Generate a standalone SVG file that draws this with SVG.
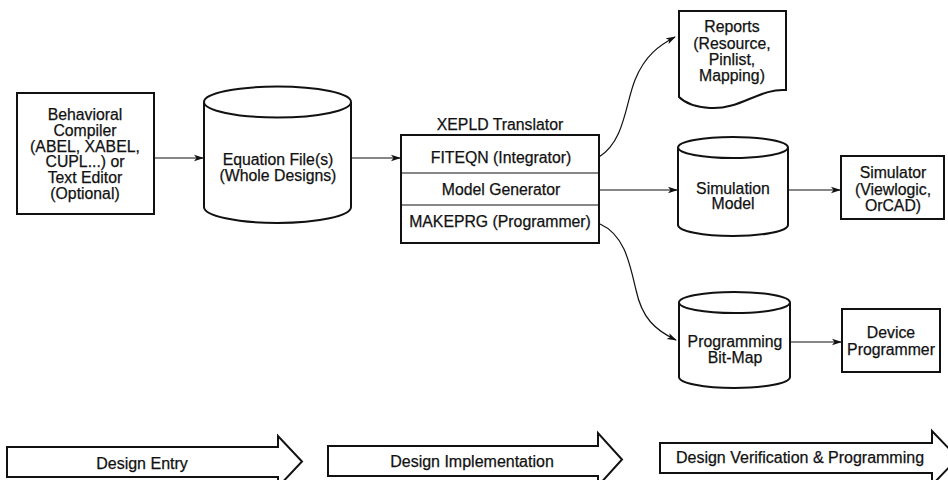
<svg xmlns="http://www.w3.org/2000/svg" width="948" height="480" viewBox="0 0 948 480">
<style>
.shape{fill:#fff;stroke:#111;stroke-width:2}
.line{fill:none;stroke:#111;stroke-width:1.2}
.t{font-family:"Liberation Sans",Arial,sans-serif;font-size:15.8px;fill:#111;stroke:#111;stroke-width:0.25;text-anchor:middle}
.b{font-family:"Liberation Sans",Arial,sans-serif;font-size:16px;fill:#111;stroke:#111;stroke-width:0.25;text-anchor:middle}
</style>
<defs>
<marker id="ah" markerWidth="10" markerHeight="8" refX="9" refY="4" orient="auto" markerUnits="userSpaceOnUse">
<path d="M0,0.8 L10,4 L0,7.2 L2.5,4 Z" fill="#111"/>
</marker>
</defs>
<rect width="948" height="480" fill="#fff"/>

<g id="behavioral">
<rect class="shape" x="17" y="93" width="137" height="121"/>
<text class="t" x="85" y="119.5">Behavioral</text>
<text class="t" x="85" y="135.5">Compiler</text>
<text class="t" x="85" y="151.5">(ABEL, XABEL,</text>
<text class="t" x="85" y="167">CUPL...) or</text>
<text class="t" x="85" y="183">Text Editor</text>
<text class="t" x="85" y="199">(Optional)</text>
</g>

<g id="equation">
<path class="shape" d="M204,102 V207 A73.5,16 0 0 0 351,207 V102"/>
<ellipse class="shape" cx="277.5" cy="102" rx="73.5" ry="15.5"/>
<text class="t" x="278" y="165">Equation File(s)</text>
<text class="t" x="278" y="180.5">(Whole Designs)</text>
</g>

<g id="xepld">
<text class="t" x="500" y="130">XEPLD Translator</text>
<rect class="shape" x="401" y="135" width="198" height="108"/>
<line class="line" x1="401" y1="173" x2="599" y2="173"/>
<line class="line" x1="401" y1="205" x2="599" y2="205"/>
<text class="t" x="501" y="162.5">FITEQN (Integrator)</text>
<text class="t" x="501" y="194.5">Model Generator</text>
<text class="t" x="500" y="226.5">MAKEPRG (Programmer)</text>
</g>

<g id="reports">
<path class="shape" d="M679,11 H786 V90 C760,88 740,110 710,108 C695,107 685,103 679,97 Z"/>
<text class="t" x="732" y="32">Reports</text>
<text class="t" x="732" y="48.5">(Resource,</text>
<text class="t" x="732" y="65">Pinlist,</text>
<text class="t" x="732" y="81">Mapping)</text>
</g>

<g id="simmodel">
<path class="shape" d="M678,148 V225 A55,11 0 0 0 788,225 V148"/>
<ellipse class="shape" cx="733" cy="147.5" rx="55" ry="10.5"/>
<text class="t" x="733" y="193.5">Simulation</text>
<text class="t" x="733" y="209">Model</text>
</g>

<g id="simulator">
<rect class="shape" x="841" y="156" width="103" height="63"/>
<text class="t" x="893" y="178">Simulator</text>
<text class="t" x="893" y="195">(Viewlogic,</text>
<text class="t" x="893" y="211">OrCAD)</text>
</g>

<g id="bitmap">
<path class="shape" d="M679,303 V377 A55.5,11 0 0 0 790,377 V303"/>
<ellipse class="shape" cx="734.5" cy="302.5" rx="55.5" ry="10.5"/>
<text class="t" x="735" y="346.5">Programming</text>
<text class="t" x="735" y="362.5">Bit-Map</text>
</g>

<g id="device">
<rect class="shape" x="842" y="309" width="98" height="63"/>
<text class="t" x="891" y="337.5">Device</text>
<text class="t" x="891" y="354.5">Programmer</text>
</g>

<g id="connectors">
<line class="line" x1="154" y1="158" x2="203" y2="158" marker-end="url(#ah)"/>
<line class="line" x1="351" y1="158" x2="400" y2="158" marker-end="url(#ah)"/>
<path class="line" d="M599,157 C625,140 625,105 635,80 C645,55 660,45 675,37" marker-end="url(#ah)"/>
<line class="line" x1="599" y1="190" x2="677" y2="190" marker-end="url(#ah)"/>
<path class="line" d="M600,224 C625,235 630,265 636,290 C642,318 655,330 676,340" marker-end="url(#ah)"/>
<line class="line" x1="788" y1="190" x2="840" y2="190" marker-end="url(#ah)"/>
<line class="line" x1="790" y1="342" x2="841" y2="342" marker-end="url(#ah)"/>
</g>

<g id="phase-entry">
<path class="shape" d="M7,447 H278 V436 L302,461.5 L278,487 V477 H7 Z"/>
<text class="b" x="142" y="469">Design Entry</text>
</g>
<g id="phase-implementation">
<path class="shape" d="M328,446 H598 V433 L622,459.5 L598,486 V476 H328 Z"/>
<text class="b" x="472" y="467">Design Implementation</text>
</g>
<g id="phase-verification">
<path class="shape" d="M660,443 H932 V431 L958,458 L932,485 V473 H660 Z"/>
<text class="b" x="800" y="463">Design Verification &amp; Programming</text>
</g>
</svg>
